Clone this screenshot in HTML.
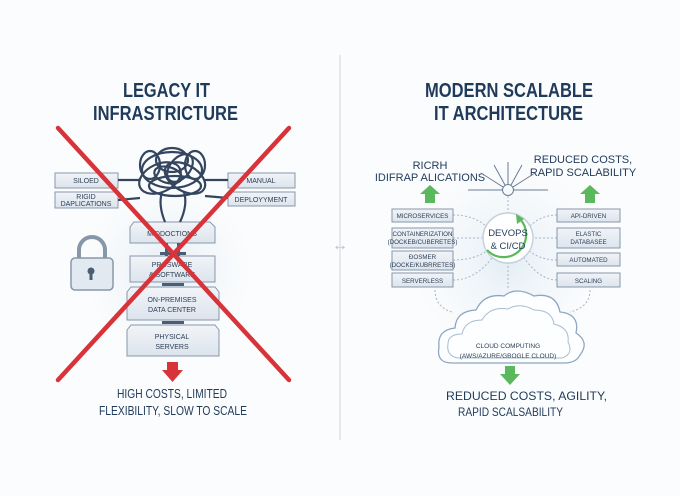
<!DOCTYPE html>
<html><head><meta charset="utf-8"><style>
html,body{margin:0;padding:0;background:#fff;}
svg{display:block;font-family:"Liberation Sans",sans-serif;}
</style></head><body>
<svg width="680" height="496" viewBox="0 0 680 496" xmlns="http://www.w3.org/2000/svg">
<defs>
<radialGradient id="g" cx="50%" cy="50%" r="50%"><stop offset="0" stop-color="#e3edf5"/><stop offset="1" stop-color="#ffffff" stop-opacity="0"/></radialGradient>
<linearGradient id="bx" x1="0" y1="0" x2="0" y2="1"><stop offset="0" stop-color="#f1f4f8"/><stop offset="1" stop-color="#dde4ed"/></linearGradient>
</defs>
<rect width="680" height="496" fill="#fbfcfd"/>
<circle cx="167" cy="270" r="115" fill="url(#g)"/>
<circle cx="508" cy="260" r="130" fill="url(#g)"/>
<line x1="340" y1="55" x2="340" y2="440" stroke="#cfd6de" stroke-width="1"/>
<text x="340" y="250" text-anchor="middle" font-size="16" fill="#b8c2cc">↔</text>

<!-- LEFT -->
<g font-weight="bold" fill="#1f3a5a" font-size="20">
<text x="123" y="97" textLength="87" lengthAdjust="spacingAndGlyphs">LEGACY IT</text>
<text x="93" y="120" textLength="145" lengthAdjust="spacingAndGlyphs">INFRASTRICTURE</text>
</g>
<g stroke="#8797aa" fill="url(#bx)" stroke-width="1">
<rect x="55" y="173" width="63" height="15"/>
<rect x="55" y="192" width="63" height="16"/>
<rect x="228" y="173" width="67" height="15"/>
<rect x="228" y="192" width="67" height="14"/>
<polygon points="134,222 210,222 215,227 215,243 130,243 130,227"/>
<rect x="130" y="256" width="85" height="26"/>
<polygon points="131,287 215,287 219,292 219,320 127,320 127,292"/>
<polygon points="131,325 215,325 219,330 219,356 127,356 127,330"/>
</g>
<g fill="#4a5d75"><rect x="165" y="243" width="3" height="13"/><rect x="177" y="243" width="3" height="13"/><rect x="160" y="252" width="26" height="3"/><rect x="162" y="283" width="22" height="3"/><rect x="162" y="321" width="22" height="3"/></g>
<!-- tangle -->
<g fill="none" stroke="#34465f" stroke-width="2.2">
<line x1="118" y1="180" x2="140" y2="180"/><line x1="118" y1="200" x2="140" y2="198"/>
<line x1="205" y1="180" x2="228" y2="180"/><line x1="205" y1="196" x2="228" y2="198"/>
<ellipse cx="172" cy="170" rx="30" ry="18"/>
<ellipse cx="160" cy="178" rx="22" ry="14" transform="rotate(-25 160 178)"/>
<ellipse cx="185" cy="178" rx="22" ry="13" transform="rotate(30 185 178)"/>
<ellipse cx="172" cy="160" rx="16" ry="12"/>
<ellipse cx="175" cy="186" rx="26" ry="10"/>
<ellipse cx="150" cy="165" rx="10" ry="14"/>
<ellipse cx="195" cy="165" rx="10" ry="14"/>
<ellipse cx="168" cy="175" rx="14" ry="8" transform="rotate(15 168 175)"/>
<ellipse cx="180" cy="168" rx="10" ry="16" transform="rotate(40 180 168)"/>
<path d="M162 192 Q158 205 165 222 M184 192 Q188 205 180 222"/>
</g>
<g fill="#2c3e55" font-size="7" text-anchor="middle">
<text x="86" y="183">SILOED</text>
<text x="86" y="199">RIGID</text><text x="86" y="206">DAPLICATIONS</text>
<text x="261" y="183">MANUAL</text>
<text x="261" y="202">DEPLOYYMENT</text>
<text x="172" y="236">MIDDOCTIONS</text>
<text x="172" y="267">PROSWARE</text><text x="172" y="277">&amp; SOFTWARE</text>
<text x="172" y="302">ON-PREMISES</text><text x="172" y="312">DATA CENTER</text>
<text x="172" y="339">PHYSICAL</text><text x="172" y="349">SERVERS</text>
</g>
<!-- lock -->
<path d="M79 260 V250 A13 13 0 0 1 105 250 V260" fill="none" stroke="#8797aa" stroke-width="4"/>
<rect x="71" y="258" width="42" height="32" rx="4" fill="#e3e9f0" stroke="#8797aa" stroke-width="1.5"/>
<circle cx="91" cy="271" r="3.5" fill="#4a5d75"/><rect x="89.5" y="272" width="3" height="8" fill="#4a5d75"/>
<!-- red X -->
<g stroke="#d9333a" stroke-width="4.5" stroke-linecap="round">
<line x1="58" y1="128" x2="289" y2="380"/><line x1="289" y1="128" x2="58" y2="380"/>
</g>
<polygon points="167,362 178,362 178,370 183,370 172.5,382 162,370 167,370" fill="#d9333a"/>
<g fill="#1f3a5a" font-size="13">
<text x="117" y="398" textLength="110" lengthAdjust="spacingAndGlyphs">HIGH COSTS, LIMITED</text>
<text x="99" y="415" textLength="148" lengthAdjust="spacingAndGlyphs">FLEXIBILITY, SLOW TO SCALE</text>
</g>

<!-- RIGHT -->
<g font-weight="bold" fill="#1f3a5a" font-size="20">
<text x="425" y="97" textLength="168" lengthAdjust="spacingAndGlyphs">MODERN SCALABLE</text>
<text x="434" y="120" textLength="149" lengthAdjust="spacingAndGlyphs">IT ARCHITECTURE</text>
</g>
<g fill="#1f3a5a" font-size="11" text-anchor="middle">
<text x="430" y="169">RICRH</text><text x="430" y="181">IDIFRAP ALICATIONS</text>
<text x="583" y="163">REDUCED COSTS,</text><text x="583" y="176">RAPID SCALABILITY</text>
</g>
<g fill="#5cb85c">
<polygon points="430,185 440,194 435,194 435,203 425,203 425,194 420,194"/>
<polygon points="590,185 600,194 595,194 595,203 585,203 585,194 580,194"/>
<polygon points="505,366 515,366 515,374 520,374 510,385 500,374 505,374"/>
</g>
<!-- sunburst -->
<g stroke="#6b7d93" stroke-width="1" fill="none">
<circle cx="508" cy="190" r="5.5"/>
<line x1="508" y1="184" x2="508" y2="162"/><line x1="505" y1="185" x2="494" y2="165"/><line x1="511" y1="185" x2="522" y2="165"/>
<line x1="503" y1="187" x2="481" y2="173"/><line x1="513" y1="187" x2="535" y2="173"/>
<line x1="502" y1="190" x2="468" y2="190"/><line x1="514" y1="190" x2="548" y2="190"/>
</g>
<g stroke="#a8b5c4" stroke-width="1" fill="none" stroke-dasharray="2,2">
<line x1="508" y1="196" x2="508" y2="214"/><line x1="508" y1="262" x2="508" y2="288"/>
<path d="M453 215 Q475 215 488 228"/><path d="M453 238 L482 238"/><path d="M453 260 Q475 260 488 250"/><path d="M453 280 Q475 280 492 258"/>
<path d="M557 215 Q540 215 528 228"/><path d="M557 238 L534 238"/><path d="M557 260 Q540 260 528 250"/><path d="M557 280 Q540 280 524 258"/>
<path d="M435 290 Q435 307 452 312"/><path d="M590 290 Q590 307 570 312"/>
</g>
<g stroke="#8797aa" fill="url(#bx)" stroke-width="1">
<rect x="392" y="209" width="61" height="13"/><rect x="392" y="228" width="61" height="20"/>
<rect x="392" y="251" width="61" height="19"/><rect x="392" y="273" width="61" height="14"/>
<rect x="557" y="209" width="63" height="13"/><rect x="557" y="228" width="63" height="20"/>
<rect x="557" y="253" width="63" height="13"/><rect x="557" y="273" width="63" height="14"/>
</g>
<g fill="#2c3e55" font-size="6.2" text-anchor="middle">
<text x="422.5" y="218">MICROSERVICES</text>
<text x="422.5" y="236">CONTAINERIZATION</text><text x="422.5" y="244">(DOCKEB/CUBERETES)</text>
<text x="422.5" y="259">ĐOSMER</text><text x="422.5" y="267">(DOCKE/KUBRRETES)</text>
<text x="422.5" y="283">SERVERLESS</text>
<text x="588.5" y="218">API-DRIVEN</text>
<text x="588.5" y="236">ELASTIC</text><text x="588.5" y="244">DATABASEE</text>
<text x="588.5" y="262">AUTOMATED</text>
<text x="588.5" y="283">SCALING</text>
</g>
<!-- devops -->
<circle cx="508" cy="238" r="25" fill="#fff" stroke="#c5d0dc" stroke-width="1.5"/>
<path d="M487 250 A22 22 0 1 0 520 219" fill="none" stroke="#5cb85c" stroke-width="2.2"/>
<polygon points="524,219 516,214 517,224" fill="#5cb85c"/>
<g fill="#1f3a5a" font-size="9.5" text-anchor="middle"><text x="508" y="236">DEVOPS</text><text x="508" y="249">&amp; CI/CD</text></g>
<!-- cloud -->
<path d="M452 363 Q436 363 439 347 Q437 330 455 328 Q456 311 476 310 Q484 293 504 296 Q516 286 534 296 Q556 292 560 312 Q580 314 576 333 Q590 342 580 355 Q576 363 564 363 Z" fill="#fdfeff" stroke="#8ea6c0" stroke-width="1.3"/>
<path d="M458 358 Q446 356 448 344 Q448 334 462 334 Q465 320 482 320 Q490 306 508 309 Q520 302 534 310 Q552 310 554 324 Q570 328 568 342 Q574 354 562 358 Z" fill="none" stroke="#a9bcd0" stroke-width="1"/>
<g fill="#2c3e55" font-size="6.5" text-anchor="middle"><text x="508" y="348">CLOUD COMPUTING</text><text x="508" y="358">(AWS/AZURE/GBOGLE CLOUD)</text></g>
<g fill="#1f3a5a" font-size="12">
<text x="446" y="400" textLength="161" lengthAdjust="spacingAndGlyphs">REDUCED COSTS, AGILITY,</text>
<text x="458" y="416" textLength="105" lengthAdjust="spacingAndGlyphs">RAPID SCALSABILITY</text>
</g>
</svg>
</body></html>
